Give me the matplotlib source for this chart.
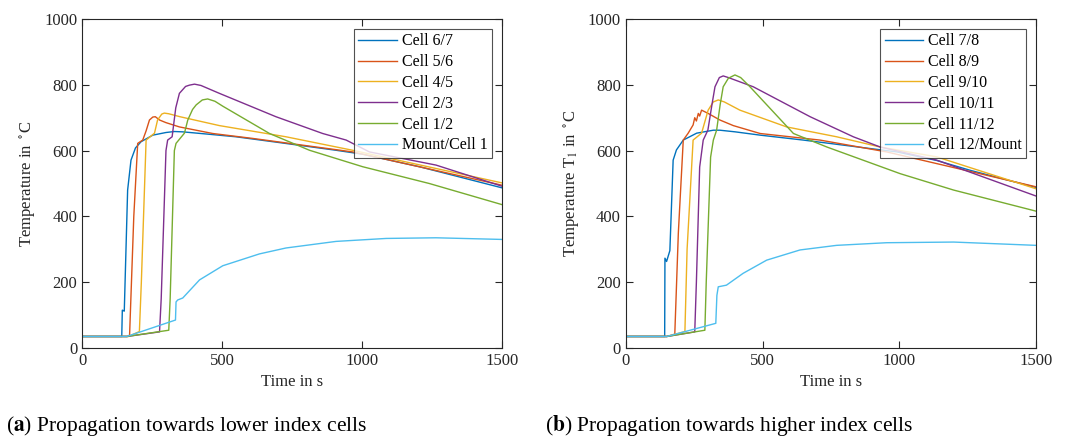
import matplotlib
matplotlib.use("Agg")
import matplotlib.pyplot as plt

plt.rcParams['font.family'] = ['Liberation Serif', 'DejaVu Serif']
plt.rcParams['mathtext.fontset'] = 'stix'

colors = ['#0072BD', '#D95319', '#EDB120', '#7E2F8E', '#77AC30', '#4DBEEE']

# (a) propagation towards lower index cells
labels_a = ['Cell 6/7', 'Cell 5/6', 'Cell 4/5', 'Cell 2/3', 'Cell 1/2', 'Mount/Cell 1']
c67_t = [0, 142, 144, 151, 163, 175, 191, 211, 253, 300, 330, 360, 450, 550, 700, 908, 1003, 1206, 1500]
c67_T = [35, 35, 115, 112, 480, 571, 608, 627, 647, 655, 658, 657, 650, 642, 625, 601, 589, 551, 487]
c56_t = [0, 165, 170, 185, 199, 217, 229, 241, 253, 262, 277, 300, 348, 467, 610, 967, 1500]
c56_T = [35, 35, 40, 400, 622, 632, 660, 693, 702, 703, 693, 685, 672, 652, 637, 596, 495]
c45_t = [0, 165, 205, 212, 229, 259, 270, 285, 294, 310, 350, 491, 729, 967, 1500]
c45_T = [35, 35, 50, 200, 632, 653, 693, 711, 714, 712, 703, 676, 642, 601, 502]
c23_t = [0, 160, 277, 283, 300, 306, 322, 335, 348, 370, 384, 402, 425, 491, 693, 860, 944, 1027, 1265, 1500]
c23_T = [35, 35, 49, 150, 600, 632, 642, 730, 774, 795, 799, 802, 798, 774, 703, 652, 632, 596, 556, 492]
c12_t = [0, 160, 310, 315, 330, 336, 366, 378, 395, 408, 430, 449, 475, 503, 670, 813, 1003, 1241, 1500]
c12_T = [35, 35, 54, 150, 600, 622, 653, 693, 725, 739, 754, 757, 750, 735, 652, 601, 551, 500, 436]
m1_t = [0, 160, 334, 336, 342, 360, 420, 503, 634, 729, 908, 1087, 1265, 1500]
m1_T = [35, 35, 85, 140, 146, 152, 207, 250, 286, 304, 324, 333, 335, 330]

# (b) propagation towards higher index cells
labels_b = ['Cell 7/8', 'Cell 8/9', 'Cell 9/10', 'Cell 10/11', 'Cell 11/12', 'Cell 12/Mount']
c78_t = [0, 142, 143, 149, 161, 173, 185, 210, 259, 320, 344, 400, 491, 649, 991, 1137, 1260, 1500]
c78_T = [35, 35, 273, 263, 296, 571, 602, 632, 653, 662, 662, 657, 647, 632, 596, 570, 540, 488]
c89_t = [0, 150, 179, 192, 210, 228, 246, 252, 258, 265, 270, 277, 289, 301, 344, 393, 491, 710, 954, 1500]
c89_T = [35, 35, 42, 350, 632, 653, 678, 700, 690, 713, 705, 723, 718, 713, 693, 676, 652, 632, 596, 490]
c910_t = [0, 150, 216, 224, 246, 277, 301, 320, 338, 360, 417, 588, 771, 930, 1137, 1500]
c910_T = [35, 35, 50, 300, 632, 653, 723, 748, 754, 748, 723, 672, 642, 611, 581, 484]
c1011_t = [0, 150, 252, 258, 270, 283, 300, 315, 326, 342, 356, 375, 466, 674, 832, 930, 1137, 1500]
c1011_T = [35, 35, 49, 200, 550, 632, 662, 740, 794, 822, 827, 822, 794, 703, 642, 611, 571, 462]
c1112_t = [0, 150, 289, 294, 310, 320, 332, 345, 356, 375, 399, 420, 454, 613, 735, 1003, 1199, 1500]
c1112_T = [35, 35, 54, 200, 580, 632, 662, 740, 794, 820, 830, 822, 794, 652, 611, 530, 480, 416]
c12m_t = [0, 150, 329, 333, 338, 368, 429, 515, 637, 771, 954, 1199, 1500]
c12m_T = [35, 35, 75, 160, 186, 191, 227, 267, 298, 312, 320, 322, 312]

series_a = [(c67_t, c67_T), (c56_t, c56_T), (c45_t, c45_T), (c23_t, c23_T), (c12_t, c12_T), (m1_t, m1_T)]
series_b = [(c78_t, c78_T), (c89_t, c89_T), (c910_t, c910_T), (c1011_t, c1011_T), (c1112_t, c1112_T), (c12m_t, c12m_T)]

fig = plt.figure(figsize=(10.68, 4.41), dpi=100)
ax1 = fig.add_axes([0.0768, 0.2109, 0.393, 0.746])
ax2 = fig.add_axes([0.586, 0.2109, 0.384, 0.746])


def draw(ax, series, labels, ylabel):
    for (t, T), lab, c in zip(series, labels, colors):
        ax.plot(t, T, color=c, lw=1.0, label=lab)
    ax.set_xlim(0, 1500)
    ax.set_ylim(0, 1000)
    ax.set_xticks([0, 500, 1000, 1500])
    ax.set_yticks([0, 200, 400, 600, 800, 1000])
    ax.tick_params(direction='in', top=True, right=True, length=5, labelsize=12, colors='#262626')
    for s in ax.spines.values():
        s.set_color('#262626')
        s.set_linewidth(0.8)
    ax.set_xlabel('Time in s', fontsize=12, color='#262626')
    ax.set_ylabel(ylabel, fontsize=12, color='#262626')
    leg = ax.legend(loc='upper right', fontsize=11.5, frameon=True, fancybox=False,
                    edgecolor='#262626', handlelength=2.4, borderaxespad=0.6,
                    labelspacing=0.3, borderpad=0.3, handletextpad=0.3)
    leg.get_frame().set_linewidth(0.8)


draw(ax1, series_a, labels_a, r'Temperature in $^\circ$C')
draw(ax2, series_b, labels_b, r'Temperature T$_1$ in $^\circ$C')

fig.text(0.006, 0.022, r'($\bf{a}$) Propagation towards lower index cells', fontsize=15.5, ha='left')
fig.text(0.51, 0.022, r'($\bf{b}$) Propagation towards higher index cells', fontsize=15.5, ha='left')

fig.savefig('out.png', dpi=100)
